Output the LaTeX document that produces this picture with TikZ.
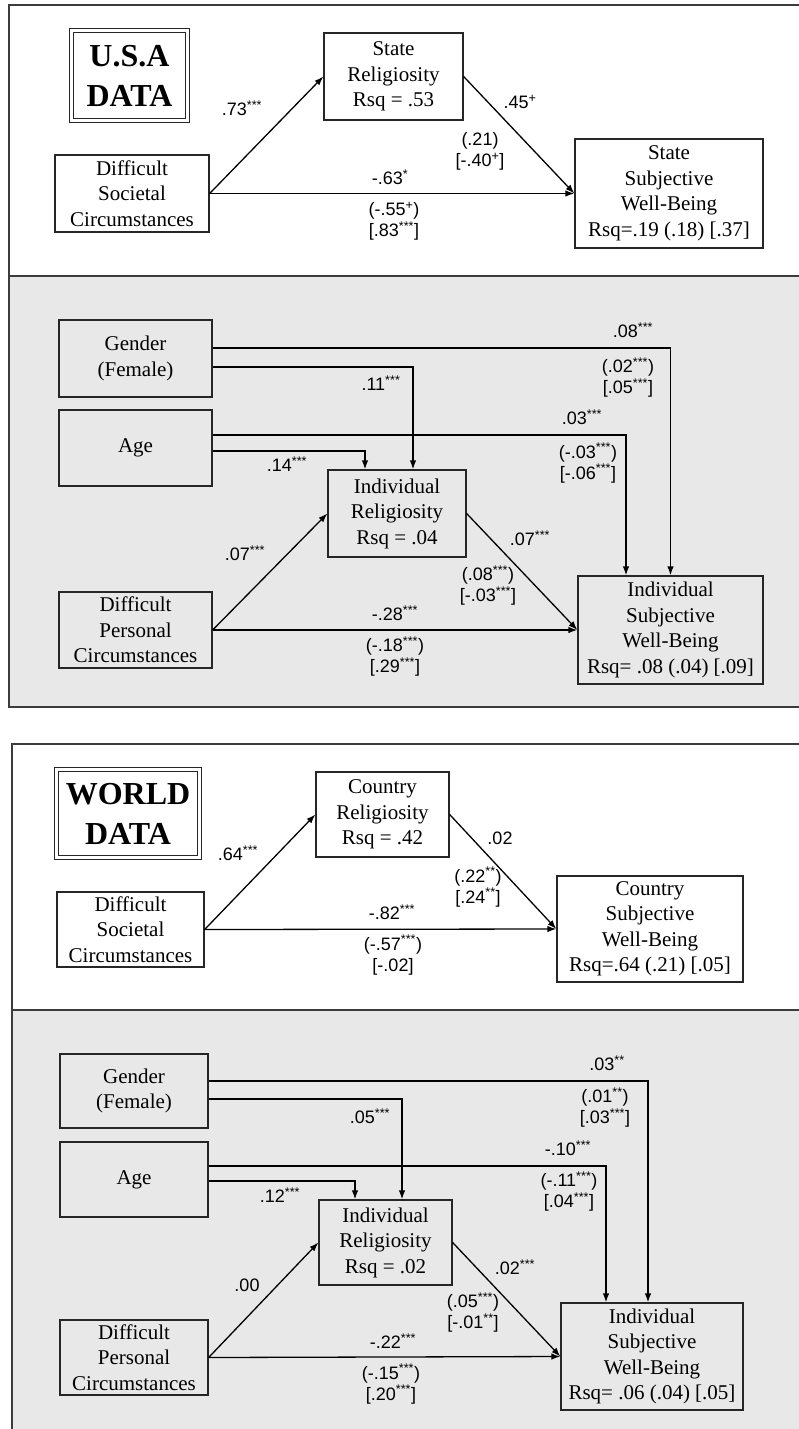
\documentclass[tikz,border=0pt]{standalone}
\usepackage{fontspec}
\setmainfont{Liberation Serif}
\newfontfamily\labfont{Liberation Sans}
\usetikzlibrary{calc}
\usetikzlibrary{arrows.meta}
\definecolor{panelgrey}{HTML}{E8E8E8}
\definecolor{framegrey}{HTML}{3C3C3C}
\tikzstyle{box}=[draw=black!85, line width=1.3pt, inner sep=0pt, align=center, font=\fontsize{21}{25.5}\selectfont]
\tikzstyle{titlebox}=[box, double, double distance=2.2pt, line width=1.5pt, font=\fontsize{32}{40}\selectfont\bfseries]
\tikzstyle{lab}=[inner sep=0pt, align=center, font=\labfont\fontsize{18}{21}\selectfont]
\tikzstyle{arr}=[line width=1.3pt, -{Latex[length=9pt,width=6.5pt]}]
\tikzstyle{panel}=[draw=framegrey, line width=1.6pt]
\newcommand{\sig}[1]{\textsuperscript{#1}}

\begin{document}
\begin{tikzpicture}[x=1pt, y=1pt]
		\useasboundingbox (0, 0) rectangle (798, -1429);
		\draw[panel] (9, -5) rectangle (806, -276);
		\draw[panel, fill=panelgrey] (9, -276) rectangle (806, -707);
		\draw[panel] (12, -744) rectangle (806, -1010);
		\draw[panel, fill=panelgrey] (12, -1010) rectangle (806, -1436);

		\node(usa)[titlebox, minimum width=116pt, minimum height=90pt] at (129.5, -75.5) {U.S.A\\DATA};
		\node(dsc1)[box, minimum width=154pt, minimum height=77pt] at (132, -193.5) {Difficult\\Societal\\Circumstances};
		\node(rel1)[box, minimum width=139pt, minimum height=87pt] at (393.5, -76.5) {State\\Religiosity\\Rsq = .53};
		\node(swb1)[box, minimum width=188pt, minimum height=109pt] at (669, -193.5) {State\\Subjective\\Well-Being\\Rsq=.19 (.18) [.37]};
		\draw[arr] (dsc1.east) -- (rel1.west);
		\draw[arr] (rel1.east) -- (swb1.west);
		\draw[arr] (dsc1.east) -- (swb1.west);
		\node(l1a)[lab] at (242, -108) {.73\sig{***}};
		\node(l1b)[lab] at (390, -177) {-.63\sig{*}};
		\node(l1c)[lab] at (394, -221.5) {(-.55\sig{+})\\{}[.83\sig{***}]};
		\node(l1d)[lab] at (520, -102) {.45\sig{+}};
		\node(l1e)[lab] at (480, -151.5) {(.21)\\{}[-.40\sig{+}]};

		\node(gen1)[box, minimum width=153pt, minimum height=77pt] at (135.5, -358.5) {Gender\\(Female)};
		\node(age1)[box, minimum width=153pt, minimum height=76pt] at (135.5, -448) {Age};
		\node(dpc1)[box, minimum width=153pt, minimum height=76pt] at (135.5, -630) {Difficult\\Personal\\Circumstances};
		\node(irel1)[box, minimum width=138pt, minimum height=87pt] at (397, -513.5) {Individual\\Religiosity\\Rsq = .04};
		\node(iswb1)[box, minimum width=185pt, minimum height=108pt] at (670.5, -630) {Individual\\Subjective\\Well-Being\\Rsq= .08 (.04) [.09]};
		\draw[arr] ($(gen1.east)+(0, 10.5)$) -| (iswb1.north);
		\draw[arr] ($(gen1.east)+(0, -8.5)$) -| ($(irel1.north)+(16, 0)$);
		\draw[arr] ($(age1.east)+(0, 13)$) -| ($(iswb1.north)+(-44.5, 0)$);
		\draw[arr] ($(age1.east)+(0, -3)$) -| ($(irel1.north)+(-32, 0)$);
		\draw[arr] (dpc1.east) -- (irel1.west);
		\draw[arr] (irel1.east) -- (iswb1.west);
		\draw[arr] (dpc1.east) -- (iswb1.west);
		\node(l2a)[lab] at (633, -330) {.08\sig{***}};
		\node(l2b)[lab] at (628, -377.5) {(.02\sig{***})\\{}[.05\sig{***}]};
		\node(l2c)[lab] at (381, -383) {.11\sig{***}};
		\node(l2d)[lab] at (582, -417) {.03\sig{***}};
		\node(l2e)[lab] at (588, -463) {(-.03\sig{***})\\{}[-.06\sig{***}]};
		\node(l2f)[lab] at (287, -464) {.14\sig{***}};
		\node(l2g)[lab] at (245, -553) {.07\sig{***}};
		\node(l2h)[lab] at (530, -538) {.07\sig{***}};
		\node(l2i)[lab] at (488, -585.5) {(.08\sig{***})\\{}[-.03\sig{***}]};
		\node(l2j)[lab] at (395, -613) {-.28\sig{***}};
		\node(l2k)[lab] at (395, -656.5) {(-.18\sig{***})\\{}[.29\sig{***}]};

		\node(world)[titlebox, minimum width=143pt, minimum height=88pt] at (128, -813.5) {WORLD\\DATA};
		\node(dsc2)[box, minimum width=147pt, minimum height=75pt] at (130.5, -929.5) {Difficult\\Societal\\Circumstances};
		\node(rel2)[box, minimum width=133pt, minimum height=85pt] at (382.5, -814.5) {Country\\Religiosity\\Rsq = .42};
		\node(swb2)[box, minimum width=186pt, minimum height=106pt] at (650, -929) {Country\\Subjective\\Well-Being\\Rsq=.64 (.21) [.05]};
		\draw[arr] (dsc2.east) -- (rel2.west);
		\draw[arr] (rel2.east) -- (swb2.west);
		\draw[arr] (dsc2.east) -- (swb2.west);
		\node(l3a)[lab] at (238, -853) {.64\sig{***}};
		\node(l3b)[lab] at (392, -912) {-.82\sig{***}};
		\node(l3c)[lab] at (393, -955) {(-.57\sig{***})\\{}[-.02]};
		\node(l3d)[lab] at (500, -838) {.02};
		\node(l3e)[lab] at (478, -887) {(.22\sig{**})\\{}[.24\sig{**}]};

		\node(gen2)[box, minimum width=148pt, minimum height=74pt] at (134, -1091) {Gender\\(Female)};
		\node(age2)[box, minimum width=148pt, minimum height=75pt] at (134, -1179.5) {Age};
		\node(dpc2)[box, minimum width=148pt, minimum height=75pt] at (134, -1357.5) {Difficult\\Personal\\Circumstances};
		\node(irel2)[box, minimum width=133pt, minimum height=85pt] at (385.5, -1242.5) {Individual\\Religiosity\\Rsq = .02};
		\node(iswb2)[box, minimum width=182pt, minimum height=107pt] at (652, -1356.5) {Individual\\Subjective\\Well-Being\\Rsq= .06 (.04) [.05]};
		\draw[arr] ($(gen2.east)+(0, 10)$) -| ($(iswb2.north)+(-4, 0)$);
		\draw[arr] ($(gen2.east)+(0, -8)$) -| ($(irel2.north)+(16.5, 0)$);
		\draw[arr] ($(age2.east)+(0, 13.5)$) -| ($(iswb2.north)+(-46, 0)$);
		\draw[arr] ($(age2.east)+(0, -1.5)$) -| ($(irel2.north)+(-30.5, 0)$);
		\draw[arr] (dpc2.east) -- (irel2.west);
		\draw[arr] (irel2.east) -- (iswb2.west);
		\draw[arr] (dpc2.east) -- (iswb2.west);
		\node(l4a)[lab] at (607, -1063) {.03\sig{**}};
		\node(l4b)[lab] at (605, -1107.5) {(.01\sig{**})\\{}[.03\sig{***}]};
		\node(l4c)[lab] at (370, -1116) {.05\sig{***}};
		\node(l4d)[lab] at (568, -1148) {-.10\sig{***}};
		\node(l4e)[lab] at (569, -1191.5) {(-.11\sig{***})\\{}[.04\sig{***}]};
		\node(l4f)[lab] at (280, -1195) {.12\sig{***}};
		\node(l4g)[lab] at (247, -1285) {.00};
		\node(l4h)[lab] at (515, -1267) {.02\sig{***}};
		\node(l4i)[lab] at (473, -1312.5) {(.05\sig{***})\\{}[-.01\sig{**}]};
		\node(l4j)[lab] at (393, -1341) {-.22\sig{***}};
		\node(l4k)[lab] at (391, -1384) {(-.15\sig{***})\\{}[.20\sig{***}]};
		\end{tikzpicture}
\end{document}
